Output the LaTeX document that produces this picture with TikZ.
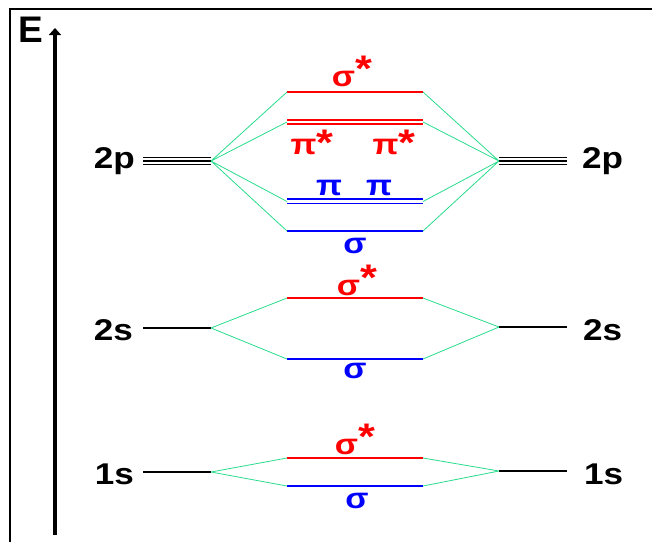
\documentclass[tikz,border=0pt]{standalone}
\usepackage{fontspec}
\setmainfont{Liberation Sans}
\newfontfamily\widefont{Liberation Sans}[FakeStretch=1.17]
\usetikzlibrary{arrows.meta}
\definecolor{mored}{RGB}{255,0,0}
\definecolor{moblue}{RGB}{0,0,255}
\definecolor{mixgreen}{RGB}{40,220,140}
\newcommand{\moast}[1][5pt]{\raisebox{#1}{\fontsize{37}{37}\selectfont *}}

\begin{document}
\begin{tikzpicture}[x=1pt, y=-1pt, >=Stealth,
    aolevel/.style={black, line width=1.8pt},
    aothin/.style={black, line width=1.5pt},
    antibond/.style={mored, line width=2.8pt},
    antithin/.style={mored, line width=1.9pt},
    bonding/.style={moblue, line width=2.8pt},
    bondthin/.style={moblue, line width=1.9pt},
    mixline/.style={mixgreen, line width=0.8pt},
    aolabel/.style={font=\widefont\fontsize{30}{30}\selectfont\bfseries, inner sep=0pt},
    molabel/.style={font=\widefont\fontsize{29}{29}\selectfont\bfseries, inner sep=0pt}]

    \useasboundingbox (0,0) rectangle (652,542);

    %% frame and energy axis
    \draw[line width=2pt] (10,542) -- (10,9) -- (652,9);
    \draw[line width=3.5pt, -{Triangle[length=7pt,width=12pt]}] (55,535) -- (55,28);
    \node[font=\fontsize{37}{37}\selectfont\bfseries, inner sep=0pt] (elabel) at (31,30) {E};

    %% 1s
    \coordinate (L1s) at (211,472);
    \coordinate (R1s) at (499,471);
    \coordinate (ss1sL) at (287,458);
    \coordinate (ss1sR) at (423,458);
    \coordinate (s1sL) at (287,486);
    \coordinate (s1sR) at (423,486);
    \draw[aolevel] (143,472) -- (L1s);
    \draw[aolevel] (R1s) -- (567,471);
    \draw[antibond] (ss1sL) -- (ss1sR);
    \draw[bonding] (s1sL) -- (s1sR);
    \draw[mixline] (L1s) -- (ss1sL) (L1s) -- (s1sL);
    \draw[mixline] (ss1sR) -- (R1s) (s1sR) -- (R1s);
    \node[aolabel, anchor=base east] (l1s) at (134,484) {1s};
    \node[aolabel, anchor=base west] (r1s) at (584,484) {1s};
    \node[molabel, text=mored, anchor=base] (ss1s) at (355,454) {σ\moast};
    \node[molabel, text=moblue, anchor=base] (s1s) at (357,508) {σ};

    %% 2s
    \coordinate (L2s) at (211,328);
    \coordinate (R2s) at (499,327);
    \coordinate (ss2sL) at (287,298);
    \coordinate (ss2sR) at (423,298);
    \coordinate (s2sL) at (287,359);
    \coordinate (s2sR) at (423,359);
    \draw[aolevel] (143,328) -- (L2s);
    \draw[aolevel] (R2s) -- (567,327);
    \draw[antibond] (ss2sL) -- (ss2sR);
    \draw[bonding] (s2sL) -- (s2sR);
    \draw[mixline] (L2s) -- (ss2sL) (L2s) -- (s2sL);
    \draw[mixline] (ss2sR) -- (R2s) (s2sR) -- (R2s);
    \node[aolabel, anchor=base east] (l2s) at (133,340) {2s};
    \node[aolabel, anchor=base west] (r2s) at (583,340) {2s};
    \node[molabel, text=mored, anchor=base] (ss2s) at (357,295) {σ\moast};
    \node[molabel, text=moblue, anchor=base] (s2s) at (355,378) {σ};

    %% 2p
    \coordinate (L2p) at (211,161);
    \coordinate (R2p) at (499,161);
    \coordinate (ss2pL) at (287,92);
    \coordinate (ss2pR) at (423,92);
    \coordinate (pp2pL) at (287,122);
    \coordinate (pp2pR) at (423,122);
    \coordinate (p2pL) at (287,201.5);
    \coordinate (p2pR) at (423,201.5);
    \coordinate (s2pL) at (287,231);
    \coordinate (s2pR) at (423,231);
    \draw[aothin] (143,157.6) -- (211,157.6) (143,161) -- (L2p) (143,164.4) -- (211,164.4);
    \draw[aothin] (499,157.6) -- (567,157.6) (R2p) -- (567,161) (499,164.4) -- (567,164.4);
    \draw[antibond] (ss2pL) -- (ss2pR);
    \draw[antithin] (287,120.1) -- (423,120.1) (287,123.9) -- (423,123.9);
    \draw[bondthin] (287,199.3) -- (423,199.3) (287,203.5) -- (423,203.5);
    \draw[bonding] (s2pL) -- (s2pR);
    \draw[mixline] (L2p) -- (ss2pL) (L2p) -- (pp2pL) (L2p) -- (p2pL) (L2p) -- (s2pL);
    \draw[mixline] (ss2pR) -- (R2p) (pp2pR) -- (R2p) (p2pR) -- (R2p) (s2pR) -- (R2p);
    \node[aolabel, anchor=base east] (l2p) at (135,168) {2p};
    \node[aolabel, anchor=base west] (r2p) at (582,168) {2p};
    \node[molabel, text=mored, anchor=base] (ss2p) at (352,86) {σ\moast};
    \node[molabel, text=mored, anchor=base] (pp2pa) at (312,154) {π\moast[-1pt]};
    \node[molabel, text=mored, anchor=base] (pp2pb) at (394,154) {π\moast[-1pt]};
    \node[molabel, text=moblue, anchor=base] (p2pa) at (329,195) {π};
    \node[molabel, text=moblue, anchor=base] (p2pb) at (379,195) {π};
    \node[molabel, text=moblue, anchor=base] (s2p) at (355,253) {σ};

\end{tikzpicture}
\end{document}
